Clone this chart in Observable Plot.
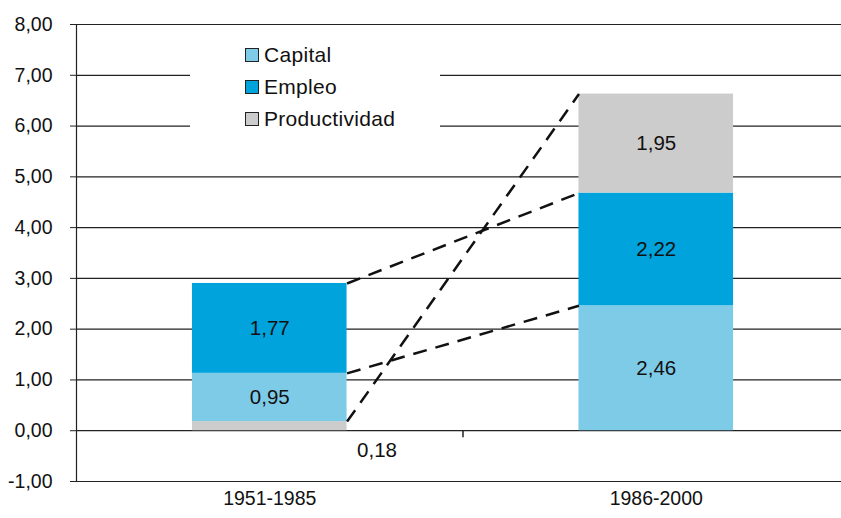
<!DOCTYPE html>
<html><head><meta charset="utf-8">
<script src="https://cdn.jsdelivr.net/npm/d3@7"></script>
<script src="https://cdn.jsdelivr.net/npm/@observablehq/plot@0.6"></script>
<style>
html,body{margin:0;padding:0;background:#fff;overflow:hidden}
#wrap{position:relative;width:841px;height:518px;font-family:"Liberation Sans",Arial,Helvetica,sans-serif}
#legend{position:absolute;left:190px;top:36px;width:250px;height:100px;background:#fff;padding-top:3px;box-sizing:border-box}
.item{display:flex;align-items:center;height:32px;padding-left:55px;font-size:21px;color:#111;letter-spacing:0.3px}
.sw{width:14px;height:14px;border:1.5px solid #222;box-sizing:border-box;margin-right:5px;flex:none}
</style></head><body><div id="wrap"><div id="legend"></div></div>
<script>
const periods = ["1951-1985", "1986-2000"];
const series = ["Capital", "Empleo", "Productividad"];
const capital = [0.95, 2.46];
const empleo = [1.77, 2.22];
const productividad = [0.18, 1.95];
const stackOrder = [["Productividad", "Capital", "Empleo"], ["Capital", "Empleo", "Productividad"]];
const colors = ["#7ecbe8", "#00a3dc", "#cccccc"];
const yTicks = [-1, 0, 1, 2, 3, 4, 5, 6, 7, 8];

const values = {Capital: capital, Empleo: empleo, Productividad: productividad};
const half = 0.2;
const segs = [];
periods.forEach((p, i) => {
  let base = 0;
  stackOrder[i].forEach(s => {
    const v = values[s][i];
    segs.push({period: p, i, series: s, value: v, y1: base, y2: base + v});
    base += v;
  });
});
const links = series.map(s => {
  const a = segs.find(d => d.i === 0 && d.series === s);
  const b = segs.find(d => d.i === 1 && d.series === s);
  return {x1: a.i + half, x2: b.i - half, y1: a.y2, y2: b.y2};
});
const fmt = v => v.toFixed(2).replace(".", ",");
const inside = segs.filter(d => d.value >= 0.3);
const outside = segs.filter(d => d.value < 0.3);
const idx = periods.map((p, i) => i);
const xDomain = [-0.5, periods.length - 0.5];

const chart = Plot.plot({
  width: 841, height: 518,
  marginLeft: 76, marginRight: 0, marginTop: 24, marginBottom: 37,
  style: {fontFamily: '"Liberation Sans", Arial, Helvetica, sans-serif', fontSize: "19px", color: "#111", background: "transparent"},
  x: {type: "linear", domain: xDomain, range: [76, 849], axis: null},
  y: {domain: [-1, 8], axis: null},
  color: {domain: series, range: colors},
  marks: [
    Plot.ruleY(yTicks, {stroke: "#222", strokeWidth: 1.2}),
    Plot.rectY(segs, {x1: d => d.i - half, x2: d => d.i + half, y1: "y1", y2: "y2", fill: "series"}),
    Plot.link(links, {x1: "x1", x2: "x2", y1: "y1", y2: "y2", stroke: "#111", strokeWidth: 2.5, strokeDasharray: "14,9"}),
    Plot.text(inside, {x: "i", y: d => (d.y1 + d.y2) / 2, text: d => fmt(d.value), fontSize: 20.5, fill: "#111"}),
    Plot.text(outside, {x: d => d.i + half, y: 0, text: d => fmt(d.value), dx: 30, dy: 20, fontSize: 20.5, fill: "#111"}),
    Plot.ruleX([xDomain[0]], {y1: -1, y2: 8, stroke: "#222", strokeWidth: 1.2}),
    Plot.ruleX([d3.mean(idx)], {y1: 0, y2: 0, insetBottom: -7, stroke: "#222", strokeWidth: 1.5}),
    Plot.axisY({ticks: yTicks, tickFormat: fmt, tickSize: 6, tickPadding: 18, fontSize: 19.5, stroke: "#222"}),
    Plot.axisX({ticks: idx, tickFormat: i => periods[i], tickSize: 0, tickPadding: 10, fontSize: 19.5})
  ]
});
const wrap = document.getElementById("wrap");
wrap.insertBefore(chart, wrap.firstChild);
const legend = document.getElementById("legend");
series.forEach((s, k) => {
  const it = document.createElement("div");
  it.className = "item";
  it.innerHTML = `<span class="sw" style="background:${colors[k]}"></span><span>${s}</span>`;
  legend.appendChild(it);
});
</script></body></html>
